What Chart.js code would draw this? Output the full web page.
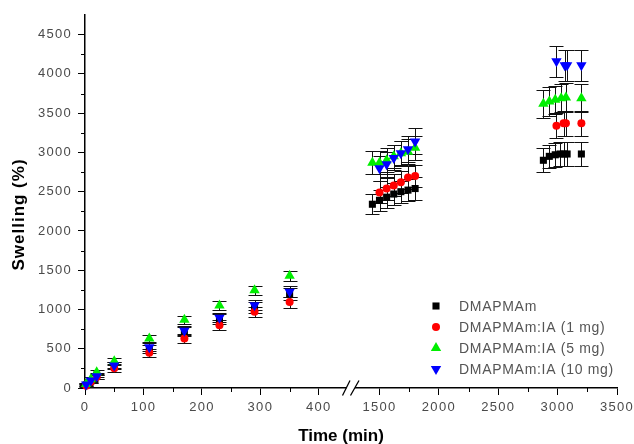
<!DOCTYPE html>
<html>
<head>
<meta charset="utf-8">
<script src="https://cdn.jsdelivr.net/npm/chart.js@4.4.1/dist/chart.umd.min.js"></script>
<style>
    html, body { margin: 0; padding: 0; background: #fff; }
    #wrap { width: 634px; height: 444px; position: relative; }
</style>
</head>
<body>
<div id="wrap"><canvas id="swellingChart"></canvas></div>
<script>
// Series names and marker colours
const seriesNames = ['DMAPMAm', 'DMAPMAm:IA (1 mg)', 'DMAPMAm:IA (5 mg)', 'DMAPMAm:IA (10 mg)'];
const seriesColors = ['#000000', '#ff0000', '#00ee00', '#0000ff'];

// First day (min)
const tEarly = [2, 10, 20, 50, 110, 170, 230, 290, 350];

// Swelling (%) during the first day
const swEarly0 = [40, 90, 165, 290, 500, 720, 880, 1030, 1200];
const swEarly1 = [30, 80, 140, 250, 450, 630, 800, 970, 1095];
const swEarly2 = [50, 110, 200, 340, 630, 870, 1050, 1245, 1430];
const swEarly3 = [45, 95, 150, 285, 520, 730, 895, 1055, 1225];

const errEarly0 = [15, 20, 30, 40, 50, 60, 60, 70, 75];
const errEarly1 = [15, 20, 30, 40, 50, 55, 60, 65, 70];
const errEarly2 = [15, 25, 30, 40, 45, 50, 55, 60, 65];
const errEarly3 = [15, 20, 30, 40, 50, 60, 60, 65, 70];

// Later readings (min), one list per series
const tLate0 = [1440, 1500, 1560, 1620, 1680, 1740, 1800, 2880, 2930, 2980, 3020, 3050, 3080, 3200];
const tLate1 = [1500, 1560, 1620, 1680, 1740, 1800, 2990, 3050, 3070, 3200];
const tLate2 = [1440, 1500, 1560, 1620, 1680, 1740, 1800, 2880, 2930, 2980, 3030, 3070, 3200];
const tLate3 = [1500, 1560, 1620, 1680, 1740, 1800, 2990, 3060, 3080, 3200];

const swLate0 = [2340, 2390, 2430, 2470, 2500, 2520, 2540, 2900, 2950, 2970, 2980, 2980, 2980, 2980];
const swLate1 = [2490, 2540, 2580, 2620, 2680, 2700, 3340, 3370, 3370, 3370];
const swLate2 = [2870, 2870, 2900, 2950, 2990, 3010, 3060, 3620, 3650, 3670, 3690, 3700, 3690];
const swLate3 = [2800, 2850, 2930, 2990, 3040, 3140, 4160, 4110, 4110, 4110];

const errLate0 = [130, 130, 135, 135, 140, 140, 145, 150, 150, 150, 155, 155, 155, 155];
const errLate1 = [140, 140, 140, 140, 145, 145, 160, 160, 160, 160];
const errLate2 = [150, 150, 150, 150, 155, 155, 155, 180, 180, 180, 180, 180, 180];
const errLate3 = [160, 160, 160, 160, 165, 165, 200, 200, 200, 200];

// Axis ticks
const yTicks = [0, 500, 1000, 1500, 2000, 2500, 3000, 3500, 4000, 4500];
const xTicksEarly = [0, 100, 200, 300, 400];
const xTicksLate = [1500, 2000, 2500, 3000, 3500];

const FONT = "'Liberation Sans', Arial, sans-serif";
const CAP = 7;

const markers = [
    { pointStyle: 'rect', radius: 5, rotation: 0 },
    { pointStyle: 'circle', radius: 4, rotation: 0 },
    { pointStyle: 'triangle', radius: 6, rotation: 0 },
    { pointStyle: 'triangle', radius: 6, rotation: 180 }
];

function toPoints(times, vals, errs) {
    return times.map((t, i) => ({ x: t, y: vals[i], e: errs[i] }));
}

const early = [
    toPoints(tEarly, swEarly0, errEarly0),
    toPoints(tEarly, swEarly1, errEarly1),
    toPoints(tEarly, swEarly2, errEarly2),
    toPoints(tEarly, swEarly3, errEarly3)
];
const late = [
    toPoints(tLate0, swLate0, errLate0),
    toPoints(tLate1, swLate1, errLate1),
    toPoints(tLate2, swLate2, errLate2),
    toPoints(tLate3, swLate3, errLate3)
];

const datasets = [];
seriesNames.forEach((name, i) => {
    const style = {
        label: name,
        backgroundColor: seriesColors[i],
        borderColor: seriesColors[i],
        pointStyle: markers[i].pointStyle,
        pointRadius: markers[i].radius,
        pointRotation: markers[i].rotation,
        pointBorderWidth: 0,
        pointHoverRadius: markers[i].radius,
        order: 4 - i,
        clip: false
    };
    datasets.push(Object.assign({ data: early[i], xAxisID: 'x' }, style));
    datasets.push(Object.assign({ data: late[i], xAxisID: 'x2' }, style));
});

function midpoints(arr) {
    return arr.slice(0, -1).map((v, i) => (v + arr[i + 1]) / 2);
}

// vertical error bars with caps, drawn under the markers
const errorBars = {
    id: 'errorBars',
    beforeDatasetsDraw(chart) {
        const ctx = chart.ctx;
        const yScale = chart.scales.y;
        ctx.save();
        ctx.strokeStyle = '#111';
        ctx.lineWidth = 1;
        chart.data.datasets.forEach(ds => {
            const xScale = chart.scales[ds.xAxisID];
            ds.data.forEach(p => {
                const px = Math.round(xScale.getPixelForValue(p.x)) + 0.5;
                const top = Math.round(yScale.getPixelForValue(p.y + p.e)) + 0.5;
                const bot = Math.round(yScale.getPixelForValue(p.y - p.e)) + 0.5;
                ctx.beginPath();
                ctx.moveTo(px, top); ctx.lineTo(px, bot);
                ctx.moveTo(px - CAP, top); ctx.lineTo(px + CAP, top);
                ctx.moveTo(px - CAP, bot); ctx.lineTo(px + CAP, bot);
                ctx.stroke();
            });
        });
        ctx.restore();
    }
};

// minor ticks, axis break, axis titles and the legend box
const decorations = {
    id: 'decorations',
    beforeLayout(chart) { chart.ctx.letterSpacing = '1.3px'; },
    beforeDraw(chart) { chart.ctx.letterSpacing = '1.3px'; },
    afterDraw(chart) {
        const ctx = chart.ctx;
        const area = chart.chartArea;
        const xA = chart.scales.x, xB = chart.scales.x2, y = chart.scales.y;
        ctx.save();
        ctx.strokeStyle = '#000';
        ctx.lineWidth = 1;
        ctx.beginPath();
        midpoints(yTicks).forEach(v => {
            const py = Math.round(y.getPixelForValue(v)) + 0.5;
            ctx.moveTo(area.left - 4, py); ctx.lineTo(area.left, py);
        });
        midpoints(xTicksEarly).forEach(v => {
            const px = Math.round(xA.getPixelForValue(v)) + 0.5;
            ctx.moveTo(px, area.bottom); ctx.lineTo(px, area.bottom + 4);
        });
        midpoints(xTicksLate).forEach(v => {
            const px = Math.round(xB.getPixelForValue(v)) + 0.5;
            ctx.moveTo(px, area.bottom); ctx.lineTo(px, area.bottom + 4);
        });
        ctx.stroke();

        // axis break
        const b = xA.right;
        const ay = area.bottom;
        ctx.fillStyle = '#fff';
        ctx.fillRect(b - 4.5, ay - 3, 8.5, 6);
        ctx.lineWidth = 1.3;
        ctx.beginPath();
        ctx.moveTo(b - 8.5, ay + 7.5); ctx.lineTo(b - 1, ay - 7.5);
        ctx.moveTo(b - 0.5, ay + 7.5); ctx.lineTo(b + 8, ay - 7.5);
        ctx.stroke();

        // axis titles
        ctx.fillStyle = '#000';
        ctx.font = 'bold 17px ' + FONT;
        ctx.letterSpacing = '0px';
        ctx.textAlign = 'center';
        ctx.textBaseline = 'middle';
        ctx.fillText('Time (min)', (area.left + area.right) / 2 - 10, 436);

        ctx.save();
        ctx.translate(19, (area.top + area.bottom) / 2 + 13);
        ctx.rotate(-Math.PI / 2);
        ctx.letterSpacing = '1px';
        ctx.fillText('Swelling (%)', 0, 0);
        ctx.restore();

        // legend
        const lx = area.right - 181;
        const ly = area.bottom - 82;
        ctx.font = '14px ' + FONT;
        ctx.letterSpacing = '0.7px';
        ctx.textAlign = 'left';
        seriesNames.forEach((name, i) => {
            const ry = ly + i * 21;
            ctx.fillStyle = seriesColors[i];
            Chart.helpers.drawPoint(ctx, {
                pointStyle: markers[i].pointStyle,
                radius: markers[i].radius,
                rotation: markers[i].rotation,
                borderWidth: 0
            }, lx, ry);
            ctx.fillStyle = '#555';
            ctx.fillText(name, lx + 23, ry + 1);
        });
        ctx.restore();
    }
};

const tickFont = { family: FONT, size: 13 };

const xScaleBase = {
    type: 'linear',
    axis: 'x',
    position: 'bottom',
    stack: 'time',
    stackWeight: 1,
    grid: { display: true, drawOnChartArea: false, drawTicks: true, tickLength: 7, tickColor: '#000', tickWidth: 1 },
    border: { display: true, color: '#000', width: 1.5 },
    ticks: { font: tickFont, color: '#4a4a4a', padding: 5, maxRotation: 0, autoSkip: false, callback: v => String(v) },
    afterFit: scale => {
        // keep the plot edges fixed, the end labels may overhang
        scale.height = 56;
        scale.paddingLeft = 0;
        scale.paddingRight = 0;
    }
};

const ctx = document.getElementById('swellingChart').getContext('2d');
const swellingChart = new Chart(ctx, {
    type: 'scatter',
    data: { datasets: datasets },
    options: {
        responsive: true,
        maintainAspectRatio: false,
        animation: false,
        layout: { padding: { left: 0, right: 17, top: 15, bottom: 0 } },
        plugins: {
            legend: { display: false },
            tooltip: { enabled: false }
        },
        scales: {
            x: Object.assign({}, xScaleBase, {
                min: 0,
                max: 455,
                afterBuildTicks: scale => { scale.ticks = xTicksEarly.map(v => ({ value: v })); }
            }),
            x2: Object.assign({}, xScaleBase, {
                min: 1260,
                max: 3500,
                afterBuildTicks: scale => { scale.ticks = xTicksLate.map(v => ({ value: v })); }
            }),
            y: {
                type: 'linear',
                position: 'left',
                min: 0,
                max: 4750,
                grid: { display: true, drawOnChartArea: false, drawTicks: true, tickLength: 7, tickColor: '#000', tickWidth: 1 },
                border: { display: true, color: '#000', width: 1.5 },
                ticks: { font: tickFont, color: '#4a4a4a', padding: 6, callback: v => String(v) },
                afterBuildTicks: scale => { scale.ticks = yTicks.map(v => ({ value: v })); },
                afterFit: scale => {
                    scale.width = 85;
                    scale.paddingTop = 0;
                    scale.paddingBottom = 0;
                }
            }
        }
    },
    plugins: [errorBars, decorations]
});
</script>
</body>
</html>
